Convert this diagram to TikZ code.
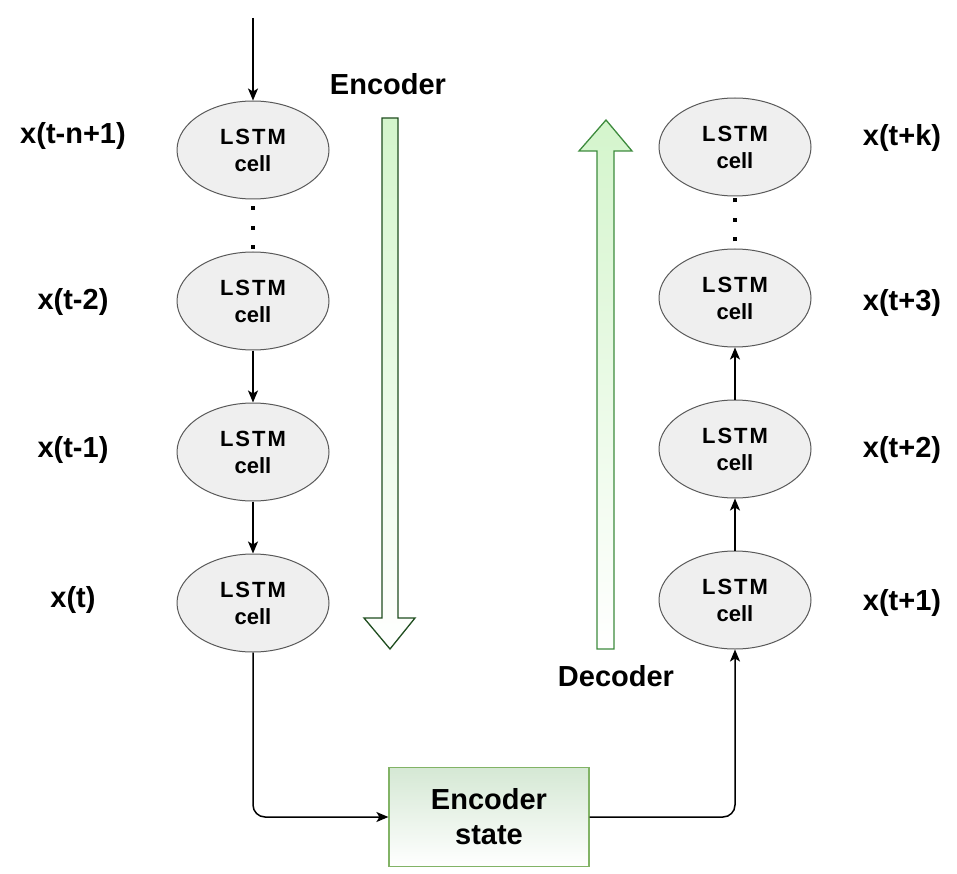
\documentclass[tikz,border=0pt]{standalone}
\usepackage{fontspec}
\setmainfont{Liberation Sans}
\newfontfamily\cellfont[LetterSpace=9]{Liberation Sans}
\usetikzlibrary{positioning,calc,shapes.geometric,arrows.meta}
\definecolor{cellgray}{HTML}{EFEFEF}
\definecolor{stategreen}{HTML}{82B366}
\definecolor{statefill}{HTML}{D5E8D4}
\definecolor{arrowfill}{HTML}{D4F5CC}
\definecolor{encgreen}{HTML}{1F4D1F}
\definecolor{decgreen}{HTML}{3D8B3D}
\tikzset{cell/.style={draw=black!65,line width=1pt,fill=cellgray,ellipse,minimum width=152pt,minimum height=98pt,inner sep=0pt,align=center,font=\bfseries\fontsize{22}{27}\selectfont},
         lbl/.style={font=\bfseries\fontsize{29}{35}\selectfont},
         statebox/.style={draw=stategreen,line width=1.2pt,top color=statefill,bottom color=white,minimum width=200pt,minimum height=99pt,align=center,font=\bfseries\fontsize{29}{35}\selectfont},
         dotsline/.style={line width=4pt,dash pattern=on 4pt off 15.5pt,dash phase=12.5pt},
         bigarrow/.style={line width=1.3pt,top color=arrowfill,bottom color=white}
}
\tikzstyle{arrow} = [line width=1.5pt,->,>={Stealth[length=12pt,width=10pt,inset=3pt]}]

\begin{document}
\begin{tikzpicture}[x=1pt,y=-1pt]
\useasboundingbox (0,0) rectangle (957,874);

% encoder cells
\node[cell] (c1) at (253,150) {{\cellfont LSTM}\\cell};
\node[cell,below=52pt of c1] (c2) {{\cellfont LSTM}\\cell};
\node[cell,below=52pt of c2] (c3) {{\cellfont LSTM}\\cell};
\node[cell,below=52pt of c3] (c4) {{\cellfont LSTM}\\cell};

% decoder cells
\node[cell] (r1) at (735,600) {{\cellfont LSTM}\\cell};
\node[cell,above=52pt of r1] (r2) {{\cellfont LSTM}\\cell};
\node[cell,above=52pt of r2] (r3) {{\cellfont LSTM}\\cell};
\node[cell,above=52pt of r3] (rk) {{\cellfont LSTM}\\cell};

\node[statebox] (state) at (489,817) {Encoder\\state};

% labels
\node[lbl] (xn) at (73,136) {x(t-n+1)};
\node[lbl] (x2) at (73,302) {x(t-2)};
\node[lbl] (x1) at (73,450) {x(t-1)};
\node[lbl] (x0) at (73,600) {x(t)};
\node[lbl] (yk) at (902,138) {x(t+k)};
\node[lbl] (y3) at (902,303) {x(t+3)};
\node[lbl] (y2) at (902,450) {x(t+2)};
\node[lbl] (y1) at (902,603) {x(t+1)};
\node[lbl,anchor=base] (enc) at (388,95) {Encoder};
\node[lbl,anchor=base] (dec) at (616,686) {Decoder};

% direction arrows
\draw[bigarrow,draw=encgreen] (382,118) -- (398,118) -- (398,618) -- (415,618) -- (390,649) -- (364,618) -- (382,618) -- cycle;
\draw[bigarrow,draw=decgreen] (597,649) -- (614,649) -- (614,151) -- (632,151) -- (606,120) -- (579,151) -- (597,151) -- cycle;

\coordinate (in) at (253,18);
\draw[arrow] (in)--(c1);
\draw[dotsline] (c1)--(c2);
\draw[arrow] (c2)--(c3);
\draw[arrow] (c3)--(c4);
\draw[arrow,rounded corners=12pt] (c4)|-(state);
\draw[arrow,rounded corners=12pt] (state)-|(r1);
\draw[arrow] (r1)--(r2);
\draw[arrow] (r2)--(r3);
\draw[dotsline] (r3)--(rk);

\end{tikzpicture}
\end{document}
